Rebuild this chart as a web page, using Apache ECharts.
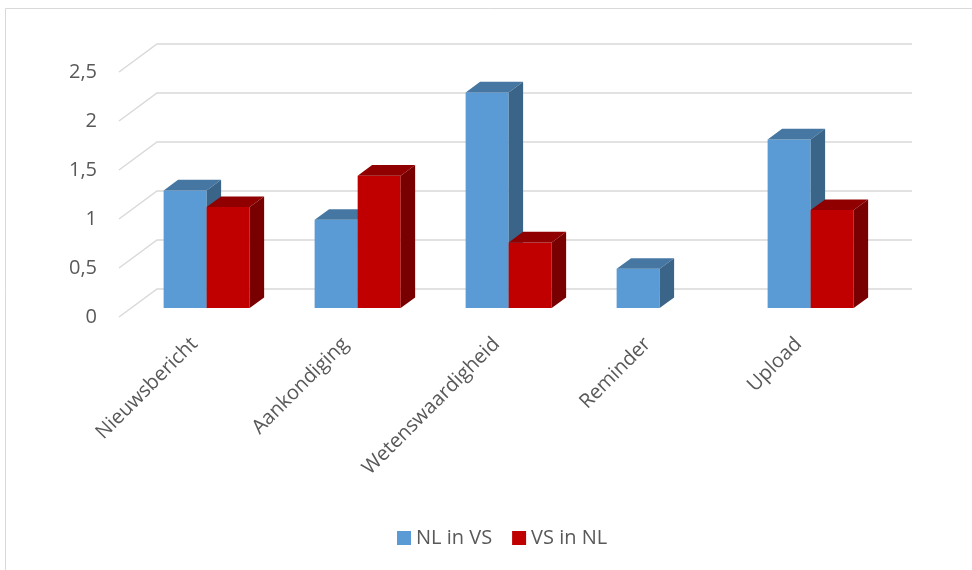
<!DOCTYPE html>
<html>
<head>
<meta charset="utf-8">
<script src="https://cdn.jsdelivr.net/npm/echarts@6/dist/echarts.min.js"></script>
<style>
  html, body { margin: 0; padding: 0; background: #fff; }
  #chart { width: 972px; height: 570px; }
</style>
</head>
<body>
<div id="chart"></div>
<script>
var categories = ['Nieuwsbericht', 'Aankondiging', 'Wetenswaardigheid', 'Reminder', 'Upload'];
var nlInVs = [1.2, 0.9, 2.2, 0.4, 1.72];
var vsInNl = [1.03, 1.35, 0.67, 0, 1.0];
var yTicks = [0, 0.5, 1, 1.5, 2, 2.5];

// oblique "3D" depth: pixel shift from front plane to back wall
var DEPTH_X = 38, DEPTH_Y = -28;
var BAR_FRONT = 0.32, BAR_BACK = 0.7;
var BAR_RATIO = 0.285;

function gridRender(params, api) {
    var cs = params.coordSys;
    var y = api.coord([0, api.value(0)])[1];
    return {
        type: 'polyline',
        shape: { points: [[cs.x, y], [cs.x + DEPTH_X, y + DEPTH_Y], [cs.x + cs.width + DEPTH_X, y + DEPTH_Y]] },
        style: { stroke: '#d9d9d9', lineWidth: 1.5, fill: null }
    };
}

function barRender(side, colFront, colTop, colSide) {
    return function (params, api) {
        var v = api.value(1);
        if (!v) return;
        var c = api.coord([api.value(0), v]);
        var base = api.coord([api.value(0), 0]);
        var w = api.size([1, 0])[0] * BAR_RATIO;
        var x0 = c[0] + (side === 0 ? -w : 0) + DEPTH_X * BAR_FRONT;
        var yTop = c[1] + DEPTH_Y * BAR_FRONT;
        var yBot = base[1] + DEPTH_Y * BAR_FRONT;
        var dx = DEPTH_X * (BAR_BACK - BAR_FRONT);
        var dy = DEPTH_Y * (BAR_BACK - BAR_FRONT);
        return {
            type: 'group',
            children: [
                { type: 'rect', shape: { x: x0, y: yTop, width: w, height: yBot - yTop }, style: { fill: colFront } },
                { type: 'polygon', shape: { points: [[x0, yTop], [x0 + w, yTop], [x0 + w + dx, yTop + dy], [x0 + dx, yTop + dy]] }, style: { fill: colTop } },
                { type: 'polygon', shape: { points: [[x0 + w, yTop], [x0 + w + dx, yTop + dy], [x0 + w + dx, yBot + dy], [x0 + w, yBot]] }, style: { fill: colSide } }
            ]
        };
    };
}

var myChart = echarts.init(document.getElementById('chart'));
var textFont = '"Open Sans", "Noto Sans", sans-serif';

option = {
    animation: false,
    textStyle: { fontFamily: textFont },
    graphic: [{
        type: 'rect',
        shape: { x: 5.5, y: 8.5, width: 1000, height: 700 },
        style: { fill: null, stroke: '#d9d9d9', lineWidth: 1 }
    }],
    legend: {
        data: ['NL in VS', 'VS in NL'],
        left: 392,
        top: 523,
        icon: 'rect',
        itemWidth: 14,
        itemHeight: 14,
        itemGap: 20,
        textStyle: { color: '#595959', fontSize: 20, fontFamily: textFont }
    },
    grid: {
        left: 119,
        width: 755,
        top: 72,
        bottom: 253
    },
    xAxis: {
        type: 'category',
        data: categories,
        axisLine: { show: false },
        axisTick: { show: false },
        axisLabel: {
            rotate: 45,
            interval: 0,
            margin: 24,
            color: '#595959',
            fontSize: 20,
            fontFamily: textFont
        }
    },
    yAxis: {
        type: 'value',
        min: 0,
        max: 2.5,
        interval: 0.5,
        splitLine: { show: false },
        axisLine: { show: false },
        axisTick: { show: false },
        axisLabel: {
            margin: 22,
            padding: [5, 0, 0, 0],
            color: '#595959',
            fontSize: 20,
            fontFamily: textFont,
            formatter: function (v) { return String(v).replace('.', ','); }
        }
    },
    series: [
        {
            type: 'custom',
            renderItem: gridRender,
            data: yTicks.map(function (t) { return [t]; }),
            encode: { y: 0 },
            silent: true,
            z: 1
        },
        {
            name: 'NL in VS',
            type: 'custom',
            renderItem: barRender(0, '#5B9BD5', '#4677A3', '#3A6589'),
            itemStyle: { color: '#5B9BD5' },
            data: nlInVs.map(function (v, i) { return [i, v]; }),
            encode: { x: 0, y: 1 },
            z: 2
        },
        {
            name: 'VS in NL',
            type: 'custom',
            renderItem: barRender(1, '#C00000', '#900000', '#780000'),
            itemStyle: { color: '#C00000' },
            data: vsInNl.map(function (v, i) { return [i, v]; }),
            encode: { x: 0, y: 1 },
            z: 3
        }
    ]
};
myChart.setOption(option);
</script>
</body>
</html>
